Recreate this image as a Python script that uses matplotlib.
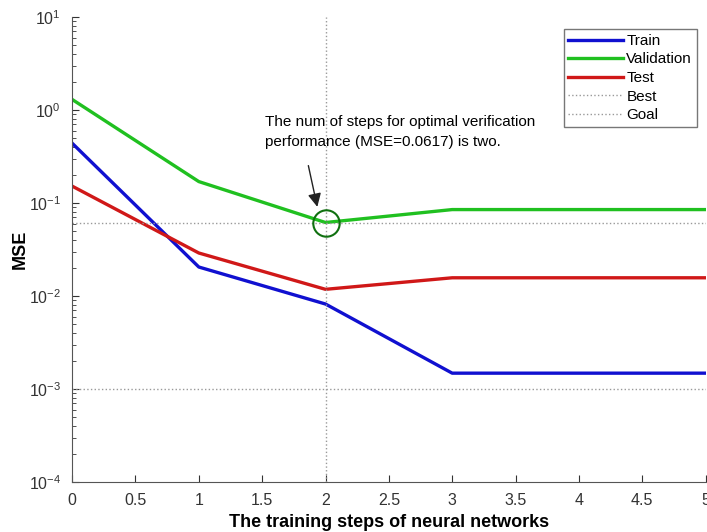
import matplotlib
matplotlib.use('Agg')
import matplotlib.pyplot as plt
from matplotlib.ticker import LogLocator, NullFormatter

plt.rcParams['font.family'] = ['Liberation Sans', 'DejaVu Sans']

# данные
steps = [0, 1, 2, 3, 4, 5]
train = [0.44, 0.0205, 0.0082, 0.00148, 0.00148, 0.00148]
validation = [1.3, 0.17, 0.0617, 0.085, 0.085, 0.085]
test = [0.152, 0.029, 0.0118, 0.0157, 0.0157, 0.0157]
best_step = 2
best_mse = 0.0617
goal = 1e-3
x_ticks = [0, 0.5, 1, 1.5, 2, 2.5, 3, 3.5, 4, 4.5, 5]
x_tick_labels = ['0', '0.5', '1', '1.5', '2', '2.5', '3', '3.5', '4', '4.5', '5']

fig = plt.figure(figsize=(7.07, 5.32), dpi=100)
ax = fig.add_axes([0.102, 0.094, 0.896, 0.874])

ax.plot(steps, train, color='#1010d0', lw=2.4, label='Train')
ax.plot(steps, validation, color='#20c020', lw=2.4, label='Validation')
ax.plot(steps, test, color='#d01818', lw=2.4, label='Test')
ax.axvline(best_step, color='#999999', lw=1, ls=':', label='Best')
ax.axhline(best_mse, color='#999999', lw=1, ls=':')
ax.axhline(goal, color='#999999', lw=1, ls=':', label='Goal')

# кружок в лучшей точке
ax.plot([best_step], [best_mse], 'o', ms=19, mfc='none', mec='#107010', mew=1.5)

ax.annotate('', xy=(1.94, 0.085), xytext=(1.86, 0.27),
            arrowprops=dict(arrowstyle='-|>', color='#222222', lw=1, mutation_scale=20))
ax.text(1.52, 0.58, 'The num of steps for optimal verification\nperformance (MSE=0.0617) is two.',
        fontsize=11, ha='left', va='center', linespacing=1.5)

ax.set_yscale('log')
ax.set_ylim(1e-4, 10)
ax.set_xlim(0, 5)
ax.set_xticks(x_ticks)
ax.set_xticklabels(x_tick_labels)
ax.yaxis.set_major_locator(LogLocator(base=10, numticks=10))
ax.yaxis.set_minor_locator(LogLocator(base=10, subs=range(2, 10), numticks=10))
ax.yaxis.set_minor_formatter(NullFormatter())

ax.tick_params(direction='in', which='both', labelsize=11.5, colors='#333333', pad=8)
ax.tick_params(which='major', length=5)
ax.tick_params(which='minor', length=3)
for s in ['top', 'right']:
    ax.spines[s].set_visible(False)
for s in ['left', 'bottom']:
    ax.spines[s].set_color('#555555')

ax.set_xlabel('The training steps of neural networks', fontsize=13, fontweight='bold', labelpad=4)
ax.set_ylabel('MSE', fontsize=13, fontweight='bold', labelpad=0)

leg = ax.legend(loc='upper right', bbox_to_anchor=(0.998, 0.99), fontsize=11, frameon=True,
                fancybox=False, edgecolor='#555555', handlelength=3.6, handletextpad=0.2,
                labelspacing=0.3, borderpad=0.3)

fig.savefig('out.png', dpi=100)
